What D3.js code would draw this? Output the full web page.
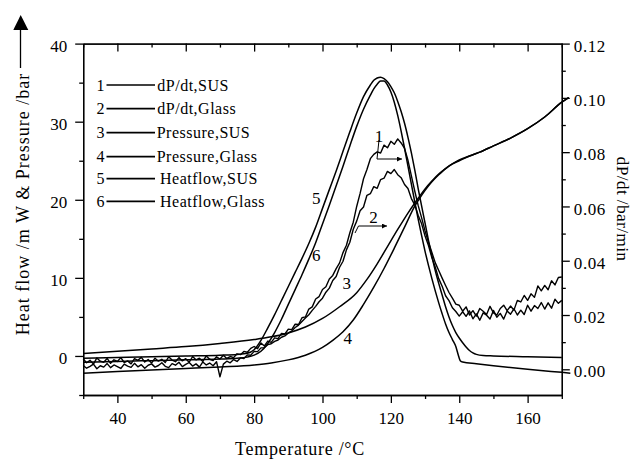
<!DOCTYPE html>
<html><head><meta charset="utf-8">
<script src="https://cdn.jsdelivr.net/npm/d3@7"></script>
<style>
html,body{margin:0;padding:0;background:#fff;}
svg{display:block;}
text{font-family:"Liberation Serif","Times New Roman",serif;fill:#000;}
</style></head><body>
<svg id="c" width="634" height="461"></svg>
<script>
// ---------- tick labels ----------
const xMajorTicks = [40, 60, 80, 100, 120, 140, 160];
const xMinorTicks = [30, 50, 70, 90, 110, 130, 150, 170];
const leftMajorTicks = [0, 10, 20, 30, 40];
const leftMinorTicks = [-5, 5, 15, 25, 35];
const rightMajorTicks = [0, 0.02, 0.04, 0.06, 0.08, 0.10, 0.12];
const rightMinorTicks = [0.01, 0.03, 0.05, 0.07, 0.09, 0.11];

// ---------- legend ----------
const legendNums = ["1", "2", "3", "4", "5", "6"];
const legendNames = ["dP/dt,SUS", "dP/dt,Glass", "Pressure,SUS", "Pressure,Glass", "Heatflow,SUS", "Heatflow,Glass"];

// ---------- dP/dt series (right axis, bar/min) ----------
const dpdtT = [30,31,32,33,34,35,36,37,38,39,40,41,42,43,44,45,46,47,48,49,50,51,52,53,54,55,56,57,58,59,
60,61,62,63,64,65,66,67,68,69,70,71,72,73,74,75,76,77,78,79,80,81,82,83,84,85,86,87,88,89,
90,91,92,93,94,95,96,97,98,99,100,101,102,103,104,105,106,107,108,109,110,111,112,113,114,115,116,117,118,119,
120,121,122,123,124,125,126,127,128,129,130,131,132,133,134,135,136,137,138,139,140,141,142,143,144,145,146,147,148,149,
150,151,152,153,154,155,156,157,158,159,160,161,162,163,164,165,166,167,168,169,170];
const dpdtSUS = [
.0038,.0024,.0033,.0019,.0042,.0030,.0026,.0040,.0022,.0035,
.0029,.0043,.0025,.0031,.0020,.0039,.0033,.0044,.0027,.0036,
.0023,.0041,.0030,.0037,.0025,.0046,.0034,.0028,.0043,.0031,
.0039,.0026,.0047,.0035,.0041,.0029,.0049,.0037,.0032,.0046,
.0038,.0052,.0040,.0047,.0043,.0057,.0054,.0066,.0063,.0077,
.0084,.0076,.0097,.0086,.0104,.0099,.0116,.0113,.0132,.0130,
.0148,.0146,.0166,.0165,.0190,.0193,.0222,.0230,.0259,.0268,
.0294,.0304,.0333,.0346,.0371,.0392,.0430,.0457,.0503,.0542,
.0600,.0648,.0702,.0736,.0776,.0792,.0801,.0797,.0826,.0816,
.0840,.0829,.0849,.0834,.0814,.0770,.0713,.0656,.0603,.0558,
.0510,.0468,.0430,.0392,.0364,.0336,.0309,.0283,.0262,.0240,
.0236,.0214,.0230,.0200,.0216,.0196,.0224,.0214,.0202,.0232,
.0208,.0200,.0224,.0236,.0216,.0233,.0218,.0254,.0248,.0272,
.0254,.0278,.0265,.0307,.0289,.0309,.0293,.0326,.0311,.0338,.0340];
const dpdtGlass = [
.0014,.0004,.0011,.0019,.0002,.0013,.0008,.0021,.0006,.0016,
.0010,.0003,.0019,.0012,.0007,.0022,.0009,.0017,.0004,.0015,
.0020,.0008,.0014,.0024,.0011,.0006,.0021,.0015,.0026,.0010,
.0018,.0025,.0012,.0020,.0008,.0027,.0016,.0023,.0013,.0028,
-.0028,.0019,.0030,.0024,.0036,.0029,.0042,.0040,.0053,.0052,
.0066,.0065,.0079,.0080,.0091,.0094,.0103,.0108,.0118,.0123,
.0134,.0141,.0154,.0163,.0176,.0189,.0201,.0217,.0232,.0249,
.0262,.0284,.0299,.0327,.0342,.0376,.0398,.0440,.0468,.0516,
.0546,.0584,.0598,.0641,.0647,.0673,.0667,.0699,.0704,.0729,
.0721,.0736,.0717,.0706,.0681,.0666,.0629,.0606,.0567,.0536,
.0491,.0456,.0411,.0376,.0334,.0306,.0271,.0253,.0227,.0213,
.0196,.0212,.0195,.0215,.0186,.0204,.0181,.0208,.0199,.0185,
.0217,.0192,.0206,.0185,.0215,.0203,.0223,.0200,.0218,.0202,
.0236,.0214,.0235,.0224,.0246,.0222,.0245,.0225,.0258,.0243,.0254];

// ---------- Pressure series (left axis, bar) ----------
const presSUS_T = [30,40,50,60,70,80,85,90,95,100,105,110,113,116,119,122,125,128,130,132,134,136,138,140,143,146,150,155,160,165,170,172];
const presSUS = [0.3,0.6,0.9,1.2,1.6,2.1,2.45,2.95,3.7,4.8,6.3,8.1,9.8,11.8,14.0,16.2,18.3,20.2,21.4,22.4,23.3,24.0,24.6,25.0,25.6,26.1,26.9,27.9,29.1,30.6,32.5,33.1];
const presGlass_T = [30,40,50,60,70,80,85,90,95,100,103,106,109,112,115,118,121,124,127,128,130,132,134,136,138,140,143,146,150,155,160,165,170,172];
const presGlass = [-2.2,-2.0,-1.8,-1.6,-1.4,-1.15,-0.9,-0.5,0.1,1.1,2.0,3.1,4.6,6.6,8.8,11.2,13.8,16.5,19.2,19.9,21.2,22.3,23.2,24.0,24.6,25.1,25.6,26.1,26.9,27.9,29.1,30.6,32.5,33.1];

// ---------- Heat flow series (left axis, mW) ----------
const heatSUS_T = [30,40,50,60,70,75,78,80,82,84,86,88,90,92,94,96,98,100,102,104,106,108,110,112,114,
115,116,117,118,119,120,121,122,123,124,125,126,127,128,129,130,131,132,133,134,135,136,137,138,139,140,141,142,143,144,145,147,150,160,170];
const heatSUS = [-0.3,-0.2,-0.1,0.0,0.1,0.2,0.35,0.8,2.0,3.6,5.3,7.1,8.9,10.7,12.5,14.4,16.5,18.9,21.3,23.7,26.2,28.7,31.1,33.2,34.7,
35.3,35.6,35.7,35.5,35.1,34.5,33.7,32.6,31.3,29.8,28.0,26.0,23.8,21.4,19.2,17.0,14.8,12.8,10.9,9.3,7.8,6.3,5.0,3.9,3.0,2.3,1.7,1.15,0.7,0.4,0.2,0.05,0.0,-0.1,-0.2];
const heatGlass_T = [30,40,50,60,70,75,78,80,82,84,86,88,90,92,94,96,98,100,102,104,106,108,110,112,114,
115,116,117,118,119,120,121,122,123,124,125,126,127,128,129,130,131,132,133,134,135,136,137,138,139,139.8,140.3,141,145,150,160,170,172.5];
const heatGlass = [-0.8,-0.7,-0.6,-0.5,-0.4,-0.3,-0.15,0.1,0.6,1.6,3.0,4.7,6.6,8.5,10.4,12.4,14.5,16.9,19.3,21.8,24.3,26.9,29.4,31.6,33.4,
34.2,34.8,35.2,35.2,34.7,33.8,32.5,30.8,28.8,26.6,24.3,22.0,19.7,17.5,15.4,13.4,11.6,9.9,8.3,6.8,5.4,4.1,3.0,2.1,1.2,0.0,-0.6,-0.78,-1.0,-1.25,-1.7,-2.1,-2.2];

// ---------- curve labels (placed at temperature / left-axis value) ----------
const curveLabels = [
  {t: "5", T: 98.2, v: 20.2},
  {t: "6", T: 98.2, v: 12.9},
  {t: "3", T: 107.1, v: 9.3},
  {t: "4", T: 107.4, v: 2.27},
];

// ================= drawing =================
const svg = d3.select("#c");
const x = d3.scaleLinear().domain([30, 170]).range([83.2, 561.8]);
const yL = d3.scaleLinear().domain([-5, 40]).range([395, 43.6]);
const yR = d3.scaleLinear().domain([-0.00947, 0.12]).range([395, 43.6]);

function styleAxis(g, fs) {
  g.selectAll("path.domain").attr("stroke", "#000").attr("stroke-width", 1.3);
  g.selectAll(".tick line").attr("stroke", "#000").attr("stroke-width", 1.3);
  g.selectAll("text").style("font-size", fs + "px").style("font-family", '"Liberation Serif","Times New Roman",serif').attr("fill", "#000");
}

// bottom axis
const gB = svg.append("g").attr("transform", "translate(0,395)")
  .call(d3.axisBottom(x).tickValues(xMajorTicks).tickSize(8).tickSizeOuter(0).tickPadding(9).tickFormat(d3.format("d")));
styleAxis(gB, 17);
const gBm = svg.append("g").attr("transform", "translate(0,395)")
  .call(d3.axisBottom(x).tickValues(xMinorTicks).tickSize(4).tickSizeOuter(0).tickFormat(""));
styleAxis(gBm, 17);
// top axis (ticks inward)
const gT = svg.append("g").attr("transform", "translate(0,43.6)")
  .call(d3.axisBottom(x).tickValues(xMajorTicks).tickSize(8).tickSizeOuter(0).tickFormat(""));
styleAxis(gT, 17);
const gTm = svg.append("g").attr("transform", "translate(0,43.6)")
  .call(d3.axisBottom(x).tickValues(xMinorTicks).tickSize(4).tickSizeOuter(0).tickFormat(""));
styleAxis(gTm, 17);
// left axis
const gL = svg.append("g").attr("transform", "translate(83.2,0)")
  .call(d3.axisLeft(yL).tickValues(leftMajorTicks).tickSize(8).tickSizeOuter(0).tickPadding(8).tickFormat(d3.format("d")));
styleAxis(gL, 17);
gL.selectAll("text").attr("dy", "0.45em");
const gLm = svg.append("g").attr("transform", "translate(83.2,0)")
  .call(d3.axisLeft(yL).tickValues(leftMinorTicks).tickSize(4).tickSizeOuter(0).tickFormat(""));
styleAxis(gLm, 17);
// right axis
const gR = svg.append("g").attr("transform", "translate(561.8,0)")
  .call(d3.axisRight(yR).tickValues(rightMajorTicks).tickSize(8).tickSizeOuter(0).tickPadding(4).tickFormat(d3.format(".2f")));
styleAxis(gR, 17);
gR.selectAll("text").attr("dy", "0.45em").style("letter-spacing", "0.6px");
const gRm = svg.append("g").attr("transform", "translate(561.8,0)")
  .call(d3.axisRight(yR).tickValues(rightMinorTicks).tickSize(4).tickSizeOuter(0).tickFormat(""));
styleAxis(gRm, 17);

// curves
function drawSeries(Ts, vals, yScale, curve, sw) {
  const data = Ts.map((t, i) => [t, vals[i]]);
  svg.append("path").datum(data)
    .attr("fill", "none").attr("stroke", "#000").attr("stroke-width", sw)
    .attr("stroke-linejoin", "round")
    .attr("d", d3.line().x(d => x(d[0])).y(d => yScale(d[1])).curve(curve));
}
drawSeries(presSUS_T, presSUS, yL, d3.curveMonotoneX, 1.5);
drawSeries(presGlass_T, presGlass, yL, d3.curveMonotoneX, 1.5);
drawSeries(heatSUS_T, heatSUS, yL, d3.curveMonotoneX, 1.5);
drawSeries(heatGlass_T, heatGlass, yL, d3.curveMonotoneX, 1.5);
drawSeries(dpdtT, dpdtSUS, yR, d3.curveLinear, 1.4);
drawSeries(dpdtT, dpdtGlass, yR, d3.curveLinear, 1.4);

// arrow marker
const defs = svg.append("defs");
defs.append("marker").attr("id", "ah").attr("viewBox", "0 0 10 10").attr("refX", 10).attr("refY", 5)
  .attr("markerWidth", 7).attr("markerHeight", 5).attr("markerUnits", "userSpaceOnUse").attr("orient", "auto")
  .append("path").attr("d", "M0,0 L10,5 L0,10 Z").attr("fill", "#000");

// curve number labels
curveLabels.forEach(l => {
  svg.append("text").attr("x", x(l.T)).attr("y", yL(l.v)).attr("dy", "0.35em").attr("text-anchor", "middle")
    .style("font-size", "17px").text(l.t);
});
// label 1 with stem and arrow (dP/dt -> right axis)
svg.append("text").attr("x", 379).attr("y", 142).attr("text-anchor", "middle").style("font-size", "17px").text("1");
svg.append("line").attr("x1", 379).attr("y1", 140).attr("x2", 377).attr("y2", 159).attr("stroke", "#000").attr("stroke-width", 1);
svg.append("line").attr("x1", 377).attr("y1", 159).attr("x2", 402).attr("y2", 159).attr("stroke", "#000").attr("stroke-width", 1).attr("marker-end", "url(#ah)");
// label 2 with arrow
svg.append("text").attr("x", 373.5).attr("y", 222.5).attr("text-anchor", "middle").style("font-size", "17px").text("2");
svg.append("line").attr("x1", 355).attr("y1", 233).attr("x2", 358.5).attr("y2", 226).attr("stroke", "#000").attr("stroke-width", 1);
svg.append("line").attr("x1", 358.5).attr("y1", 226).attr("x2", 387).attr("y2", 226).attr("stroke", "#000").attr("stroke-width", 1).attr("marker-end", "url(#ah)");

// legend
const legY = [85, 108.7, 132.7, 156.7, 178.7, 201.3];
const legTextX = [157.3, 157.3, 156.7, 156.7, 160, 160];
legendNums.forEach((n, i) => {
  svg.append("text").attr("x", 104.5).attr("y", legY[i] + 5.5).attr("text-anchor", "end").style("font-size", "16px").text(n);
  svg.append("line").attr("x1", 106.5).attr("x2", 155).attr("y1", legY[i]).attr("y2", legY[i]).attr("stroke", "#000").attr("stroke-width", 1.7);
  svg.append("text").attr("x", legTextX[i]).attr("y", legY[i] + 5.5).style("font-size", "16px").style("letter-spacing", "0.5px").text(legendNames[i]);
});

// axis titles
svg.append("text").attr("x", 300).attr("y", 455).attr("text-anchor", "middle")
  .style("font-size", "18px").style("letter-spacing", "0.7px").text("Temperature /°C");
svg.append("text").attr("transform", "translate(28.5,204) rotate(-90)").attr("text-anchor", "middle")
  .style("font-size", "18px").style("letter-spacing", "1px").text("Heat flow /m W & Pressure /bar");
svg.append("text").attr("transform", "translate(617,209) rotate(90)").attr("text-anchor", "middle")
  .style("font-size", "17.5px").style("letter-spacing", "0.3px").text("dP/dt /bar/min");
// arrow on left title
svg.append("line").attr("x1", 20.5).attr("y1", 68).attr("x2", 20.5).attr("y2", 28).attr("stroke", "#000").attr("stroke-width", 1.3);
svg.append("path").attr("d", "M20.7,15 L28.3,30 L13.3,30 Z").attr("fill", "#000");
</script>
</body></html>
